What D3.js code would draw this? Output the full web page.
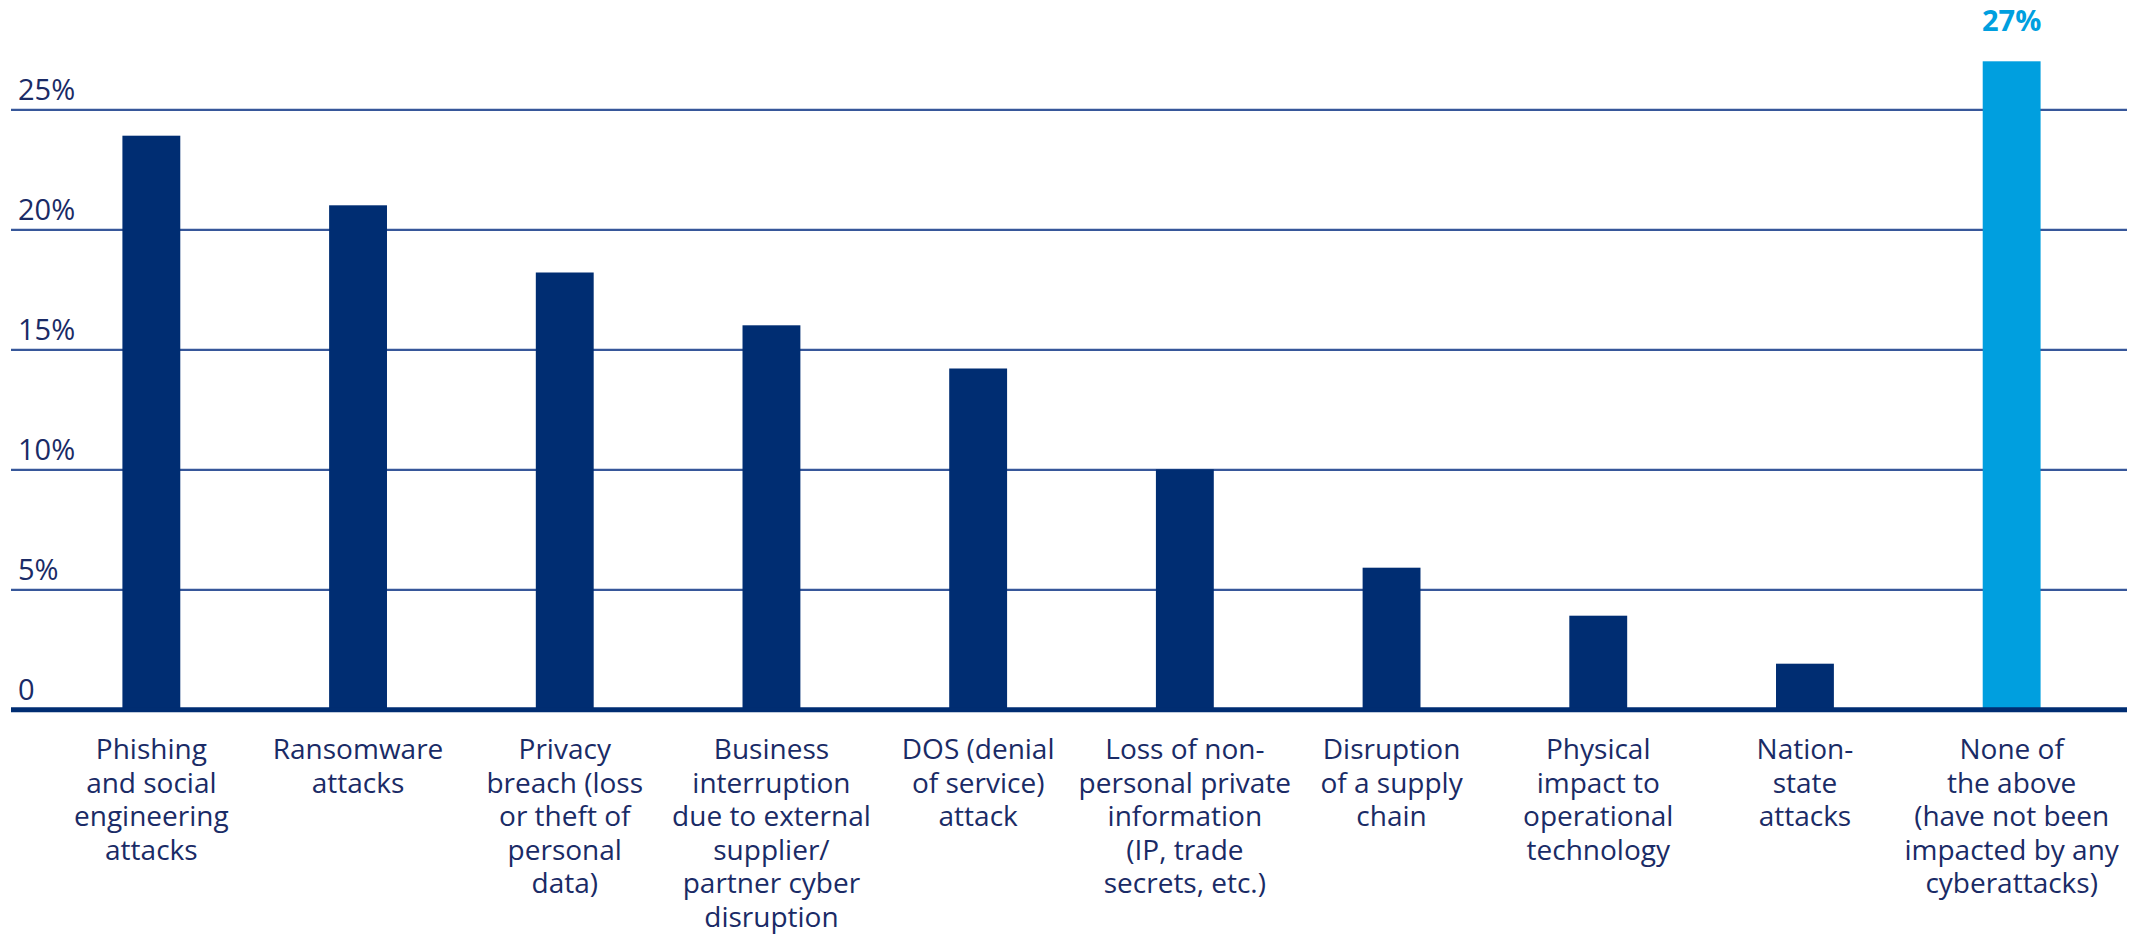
<!DOCTYPE html>
<html>
<head>
<meta charset="utf-8">
<script src="https://cdn.jsdelivr.net/npm/d3@7/dist/d3.min.js"></script>
<style>
  html, body { margin: 0; padding: 0; background: #ffffff; }
  svg { display: block; }
  text { font-family: "Open Sans", "Noto Sans", sans-serif; }
</style>
</head>
<body>
<div id="chart"></div>
<script>
// Categories (multi-line labels), shares of respondents (%), and axis ticks
const categories = [
  ["Phishing", "and social", "engineering", "attacks"],
  ["Ransomware", "attacks"],
  ["Privacy", "breach (loss", "or theft of", "personal", "data)"],
  ["Business", "interruption", "due to external", "supplier/", "partner cyber", "disruption"],
  ["DOS (denial", "of service)", "attack"],
  ["Loss of non-", "personal private", "information", "(IP, trade", "secrets, etc.)"],
  ["Disruption", "of a supply", "chain"],
  ["Physical", "impact to", "operational", "technology"],
  ["Nation-", "state", "attacks"],
  ["None of", "the above", "(have not been", "impacted by any", "cyberattacks)"]
];
const values = [23.9, 21, 18.2, 16, 14.2, 10, 5.9, 3.9, 1.9, 27];
const highlighted = [false, false, false, false, false, false, false, false, false, true];
const tickValues = [0, 5, 10, 15, 20, 25];
const tickLabels = ["0", "5%", "10%", "15%", "20%", "25%"];

const W = 2142, H = 934;
const NAVY = "#002d72";
const SKY = "#009fdf";
const GRID = "#37579a";
const TEXT = "#1a2b66";

const svg = d3.select("#chart").append("svg")
  .attr("width", W).attr("height", H);

const gridLeft = 11, gridRight = 2127;

const x = d3.scaleBand()
  .domain(d3.range(categories.length))
  .range([48, 2115])
  .paddingInner(0.72)
  .paddingOuter(0.36);

const y = d3.scaleLinear()
  .domain([0, 25])
  .range([709.3, 109.3]);

// Horizontal gridlines with their labels sitting above each line
const yAxis = d3.axisLeft(y)
  .tickValues(tickValues)
  .tickSize(-(gridRight - gridLeft))
  .tickFormat((d, i) => tickLabels[i]);

const gAxis = svg.append("g")
  .attr("transform", `translate(${gridLeft},0)`)
  .call(yAxis);
gAxis.select(".domain").remove();
gAxis.selectAll(".tick line")
  .attr("stroke", GRID)
  .attr("stroke-width", 2.2)
  .attr("x1", 0);
gAxis.selectAll(".tick text")
  .attr("x", 7)
  .attr("dy", -10)
  .attr("text-anchor", "start")
  .attr("fill", TEXT)
  .style("font-size", "29px")
  .style("font-family", "'Open Sans', sans-serif");

// Bars
svg.append("g")
  .selectAll("rect")
  .data(values)
  .join("rect")
  .attr("x", (d, i) => x(i))
  .attr("width", x.bandwidth())
  .attr("y", d => y(d))
  .attr("height", d => y(0) - y(d))
  .attr("fill", (d, i) => highlighted[i] ? SKY : NAVY);

// Baseline
svg.append("line")
  .attr("x1", gridLeft).attr("x2", gridRight)
  .attr("y1", y(0) + 0.5).attr("y2", y(0) + 0.5)
  .attr("stroke", NAVY)
  .attr("stroke-width", 5);

// Value label on the highlighted bar
svg.append("g")
  .selectAll("text")
  .data(values.map((v, i) => ({ v, i })).filter(d => highlighted[d.i]))
  .join("text")
  .attr("x", d => x(d.i) + x.bandwidth() / 2)
  .attr("y", d => y(d.v) - 30)
  .attr("text-anchor", "middle")
  .attr("fill", SKY)
  .style("font-size", "29px")
  .style("font-weight", "700")
  .text(d => `${d.v}%`);

// Category labels under the baseline
const lineH = 33.6;
svg.append("g")
  .selectAll("text")
  .data(categories)
  .join("text")
  .attr("x", (d, i) => x(i) + x.bandwidth() / 2)
  .attr("y", 759)
  .attr("text-anchor", "middle")
  .attr("fill", TEXT)
  .style("font-size", "28px")
  .selectAll("tspan")
  .data(d => d)
  .join("tspan")
  .attr("x", function () { return this.parentNode.getAttribute("x"); })
  .attr("dy", (d, j) => j === 0 ? 0 : lineH)
  .text(d => d);
</script>
</body>
</html>
